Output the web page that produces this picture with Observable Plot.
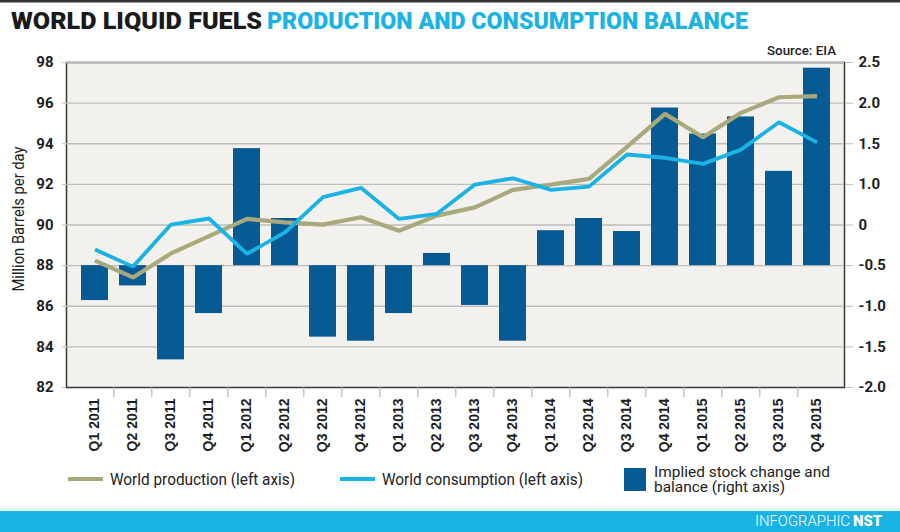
<!DOCTYPE html>
<html>
<head>
<meta charset="utf-8">
<script src="https://cdn.jsdelivr.net/npm/d3@7"></script>
<script src="https://cdn.jsdelivr.net/npm/@observablehq/plot@0.6"></script>
<style>
  html, body { margin: 0; padding: 0; background: #ffffff; }
  #chart { position: relative; width: 900px; height: 532px; overflow: hidden; }
  #chart svg { display: block; }
</style>
</head>
<body>
<div id="chart"></div>
<script>
// ---------- data ----------
const quarters = ["Q1 2011","Q2 2011","Q3 2011","Q4 2011","Q1 2012","Q2 2012","Q3 2012","Q4 2012",
  "Q1 2013","Q2 2013","Q3 2013","Q4 2013","Q1 2014","Q2 2014","Q3 2014","Q4 2014",
  "Q1 2015","Q2 2015","Q3 2015","Q4 2015"];
const production = [88.25, 87.42, 88.6, 89.45, 90.3, 90.13, 90.02, 90.38, 89.72, 90.46,
  90.87, 91.73, 91.99, 92.27, 93.85, 95.47, 94.32, 95.52, 96.29, 96.34];
const consumption = [88.79, 87.95, 90.02, 90.32, 88.58, 89.64, 91.37, 91.83, 90.3, 90.55,
  91.99, 92.3, 91.73, 91.89, 93.47, 93.31, 93.01, 93.71, 95.06, 94.07];
const stockChange = [-0.43, -0.25, -1.16, -0.59, 1.44, 0.58, -0.88, -0.93, -0.59, 0.15,
  -0.49, -0.93, 0.43, 0.58, 0.42, 1.94, 1.62, 1.83, 1.16, 2.43];
const leftTicks = [82, 84, 86, 88, 90, 92, 94, 96, 98];
const rightTickLabels = ["-2.0", "-1.5", "-1.0", "-0.5", "0", "1.0", "1.5", "2.0", "2.5"];

// right-axis mapping onto the left scale: 0 sits on the 88 line, 0.5 per gridline
const rightZero = 88, rightFactor = 4;

const rows = quarters.map((q, i) => ({
  quarter: q, production: production[i], consumption: consumption[i], stock: stockChange[i]
}));

// ---------- styling ----------
const W = 900, H = 532, mT = 62, mB = 145, mL = 66, mR = 56, pad = 0.3;
const step = (W - mL - mR) / (quarters.length + pad);
const C = {
  bg: "#f2f1ed", grid: "#bdbdbd", axis: "#3a3a3a",
  bar: "#075b94", prod: "#a9aa7c", cons: "#1bb3e6", text: "#1e1e1e", cyan: "#1ab3e4"
};
const tickFont = "Roboto, 'DejaVu Sans', sans-serif";

const chart = Plot.plot({
  width: W, height: H,
  marginTop: mT, marginBottom: mB, marginLeft: mL, marginRight: mR,
  style: { background: "transparent", overflow: "visible" },
  x: { domain: quarters, padding: pad, label: null },
  y: { domain: [82, 98], label: null },
  marks: [
    Plot.frame({ fill: C.bg, stroke: C.axis, strokeWidth: 1.5 }),
    Plot.ruleY(leftTicks.filter(t => t > 82), { stroke: C.grid, strokeWidth: 1.3 }),
    Plot.barY(rows, {
      x: "quarter",
      y1: () => rightZero,
      y2: d => rightZero + rightFactor * d.stock,
      fill: C.bar
    }),
    Plot.line(rows, { x: "quarter", y: "production", stroke: C.prod, strokeWidth: 4.2, strokeLinejoin: "miter", strokeLinecap: "butt" }),
    Plot.line(rows, { x: "quarter", y: "consumption", stroke: C.cons, strokeWidth: 3.8, strokeLinejoin: "miter", strokeLinecap: "butt" }),
    Plot.axisY({
      anchor: "left", ticks: leftTicks, tickSize: 4, tickPadding: 9, label: null,
      tickFormat: d => String(d), stroke: C.grid,
      fontSize: 15, fontWeight: "bold", fontFamily: tickFont, fill: C.text
    }),
    Plot.axisY({
      anchor: "right", ticks: leftTicks, tickSize: 8, tickPadding: 6, label: null,
      tickFormat: d => rightTickLabels[leftTicks.indexOf(d)], stroke: C.grid,
      fontSize: 15, fontWeight: "bold", fontFamily: tickFont, fill: C.text
    }),
    Plot.axisX({
      anchor: "bottom", tickRotate: -90, tickSize: 0, tickPadding: 11, label: null,
      fontSize: 14, fontWeight: "bold", fontFamily: "'Liberation Sans', Arial, sans-serif", fill: C.text
    }),
    Plot.axisX({
      anchor: "bottom", ticks: quarters.slice(1), tickSize: 10, tickFormat: () => "",
      dx: -step / 2, stroke: "#a8a8a8", label: null
    })
  ]
});

document.getElementById("chart").appendChild(chart);

// ---------- title, source, y label, legend, footer ----------
const svg = d3.select(chart);
const deco = svg.append("g").attr("class", "deco").attr("text-anchor", "start");
const font = "Roboto, 'DejaVu Sans', sans-serif";

deco.append("rect").attr("x", 0).attr("y", 0).attr("width", W).attr("height", 2.5).attr("fill", "#333");

function txt(str, x, y, opts) {
  const t = deco.append("text").attr("x", x).attr("y", y)
    .attr("font-family", opts.family || font)
    .attr("font-size", opts.size)
    .attr("font-weight", opts.weight || "normal")
    .attr("fill", opts.fill || C.text)
    .attr("text-anchor", opts.anchor || "start")
    .text(str);
  if (opts.len) t.attr("textLength", opts.len).attr("lengthAdjust", "spacingAndGlyphs");
  if (opts.transform) t.attr("transform", opts.transform);
  return t;
}

txt("WORLD LIQUID FUELS", 11, 28.5, { size: 24, weight: 900, fill: "#1a1a1a", len: 251 });
txt("PRODUCTION AND CONSUMPTION BALANCE", 267, 28.5, { size: 24, weight: 900, fill: C.cyan, len: 481 });

txt("Source: EIA", 767, 55, { size: 13, weight: 500, fill: "#222", len: 69 });

txt("Million Barrels per day", 0, 0, {
  size: 16, weight: "normal", fill: "#222", len: 145, anchor: "middle",
  transform: "translate(24,219) rotate(-90)"
});

// legend
deco.append("line").attr("x1", 68).attr("x2", 103).attr("y1", 479).attr("y2", 479)
  .attr("stroke", C.prod).attr("stroke-width", 4);
txt("World production (left axis)", 110, 485, { size: 16, fill: "#222", len: 185 });
deco.append("line").attr("x1", 340).attr("x2", 375).attr("y1", 479).attr("y2", 479)
  .attr("stroke", C.cons).attr("stroke-width", 4);
txt("World consumption (left axis)", 382, 485, { size: 16, fill: "#222", len: 201 });
deco.append("rect").attr("x", 624).attr("y", 468).attr("width", 22).attr("height", 23).attr("fill", C.bar);
txt("Implied stock change and", 654, 476.5, { size: 14.5, fill: "#222", len: 176 });
txt("balance (right axis)", 654, 492, { size: 14.5, fill: "#222", len: 131 });

// footer
deco.append("rect").attr("x", 0).attr("y", 508).attr("width", W).attr("height", 3).attr("fill", "#e3f4fa");
deco.append("rect").attr("x", 0).attr("y", 511).attr("width", W).attr("height", 21).attr("fill", C.cyan);
txt("INFOGRAPHIC", 755, 526, { size: 14, weight: 300, fill: "#ffffff", len: 95 });
txt("NST", 853, 526, { size: 14, weight: 900, fill: "#ffffff", len: 29 });
</script>
</body>
</html>
